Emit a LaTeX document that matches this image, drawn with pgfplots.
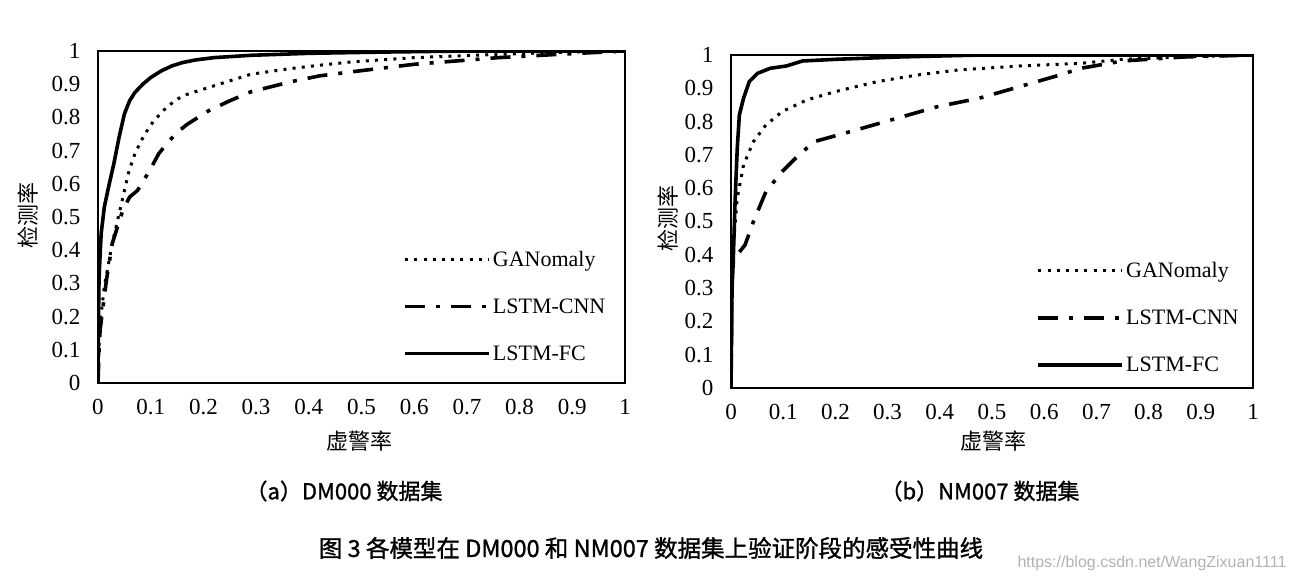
\documentclass[border=0pt]{standalone}
\usepackage{fontspec}
\setmainfont{Liberation Serif}
\newfontfamily\cjk{Noto Sans CJK SC}
\newfontfamily\cjkb[FakeBold=1.2]{Noto Sans CJK SC}
\newfontfamily\wm{Liberation Sans}
\usepackage{pgfplots}
\pgfplotsset{compat=1.18}
\pgfplotsset{
  rocstyle/.style={
    scale only axis, xmin=0, xmax=1, ymin=0, ymax=1,
    xtick={0,0.1,0.2,0.3,0.4,0.5,0.6,0.7,0.8,0.9,1},
    ytick={0,0.1,0.2,0.3,0.4,0.5,0.6,0.7,0.8,0.9,1},
    major tick length=0pt,
    axis line style={line width=1.6pt},
    /pgf/number format/assume math mode=true,
    tick label style={font=\fontsize{23}{26}\selectfont},
    xticklabel style={yshift=-13pt},
    yticklabel style={xshift=-14pt},
    label style={font=\cjk\fontsize{22}{24}\selectfont},
    legend style={draw=none, fill=none, anchor=north west,
      font=\fontsize{22}{24}\selectfont, row sep=27pt, inner sep=0pt,
      legend cell align=left,
      /tikz/every even column/.append style={column sep=8pt}},
  },
  gan/.style={black, line width=3pt, dash pattern=on 3pt off 6.2pt,
    legend image code/.code={\path (0pt,0pt) -- (84pt,0pt); \draw[##1] (0pt,0pt) -- (75pt,0pt);}},
  cnn/.style={black, line width=3.6pt, dash pattern=on 20pt off 11pt on 4pt off 11pt,
    legend image code/.code={\path (0pt,0pt) -- (84pt,0pt); \draw[##1] (0pt,0pt) -- (66pt,0pt);}},
  fc/.style={black, line width=3.6pt,
    legend image code/.code={\path (0pt,0pt) -- (84pt,0pt); \draw[##1] (0pt,0pt) -- (84pt,0pt);}},
}
\begin{document}
\begin{tikzpicture}[x=1pt,y=1pt]
\useasboundingbox (0,0) rectangle (1293,580);
% ---------- (a) DM000 ----------
\begin{axis}[rocstyle, at={(98pt,197pt)}, anchor=south west, width=527pt, height=332pt,
  xlabel={虚警率}, ylabel={检测率},
  xlabel style={at={(axis description cs:0.497,-0.175)}, anchor=center},
  ylabel style={at={(axis description cs:-0.133,0.506)}, anchor=center, rotate=0},
  legend style={at={(axis description cs:0.579,0.405)}}]
\addplot[gan] coordinates {
(0,0) (0.002,0.12) (0.004,0.18) (0.012,0.29) (0.027,0.42) (0.043,0.53) (0.059,0.64)
(0.07,0.69) (0.082,0.73) (0.095,0.765) (0.106,0.79) (0.13,0.83) (0.15,0.855) (0.17,0.87)
(0.21,0.89) (0.25,0.91) (0.29,0.93) (0.365,0.947) (0.42,0.957) (0.48,0.967) (0.6,0.98)
(0.76,0.99) (0.9,0.997) (1,1)};
\addlegendentry{GANomaly}
\addplot[cnn] coordinates {
(0,0) (0.002,0.1) (0.004,0.16) (0.016,0.31) (0.027,0.42) (0.047,0.52) (0.06,0.56)
(0.075,0.58) (0.098,0.64) (0.115,0.69) (0.13,0.72) (0.15,0.755) (0.17,0.78) (0.21,0.82)
(0.25,0.85) (0.29,0.877) (0.365,0.907) (0.42,0.925) (0.48,0.937) (0.6,0.96) (0.68,0.97)
(0.76,0.98) (0.875,0.99) (1,1)};
\addlegendentry{LSTM-CNN}
\addplot[fc] coordinates {
(0,0) (0.001,0.2) (0.002,0.32) (0.006,0.45) (0.012,0.53) (0.02,0.59) (0.03,0.66)
(0.04,0.74) (0.05,0.81) (0.06,0.85) (0.07,0.875) (0.085,0.9) (0.1,0.92) (0.12,0.94)
(0.14,0.955) (0.16,0.965) (0.185,0.973) (0.22,0.98) (0.29,0.987) (0.4,0.993)
(0.55,0.997) (0.7,1) (1,1)};
\addlegendentry{LSTM-FC}
\end{axis}
% ---------- (b) NM007 ----------
\begin{axis}[rocstyle, at={(731pt,192pt)}, anchor=south west, width=522pt, height=333pt,
  xlabel={虚警率}, ylabel={检测率},
  xlabel style={at={(axis description cs:0.502,-0.159)}, anchor=center},
  ylabel style={at={(axis description cs:-0.121,0.51)}, anchor=center, rotate=0},
  legend style={at={(axis description cs:0.585,0.385)}}]
\addplot[gan] coordinates {
(0,0) (0.002,0.35) (0.004,0.42) (0.012,0.57) (0.024,0.67) (0.043,0.74) (0.067,0.79)
(0.098,0.83) (0.145,0.865) (0.2,0.89) (0.28,0.92) (0.357,0.94) (0.435,0.955)
(0.553,0.967) (0.67,0.975) (0.75,0.987) (0.867,0.994) (1,1)};
\addlegendentry{GANomaly}
\addplot[cnn] coordinates {
(0,0) (0.002,0.37) (0.012,0.40) (0.027,0.43) (0.043,0.5) (0.067,0.59) (0.098,0.65)
(0.13,0.70) (0.16,0.74) (0.24,0.775) (0.318,0.81) (0.396,0.845) (0.475,0.87)
(0.553,0.905) (0.63,0.94) (0.67,0.96) (0.75,0.982) (0.867,0.994) (1,1)};
\addlegendentry{LSTM-CNN}
\addplot[fc] coordinates {
(0,0) (0.002,0.3) (0.004,0.37) (0.008,0.57) (0.012,0.72) (0.016,0.82) (0.024,0.87)
(0.035,0.92) (0.051,0.945) (0.075,0.96) (0.106,0.967) (0.137,0.982) (0.2,0.987)
(0.32,0.994) (0.48,1) (1,1)};
\addlegendentry{LSTM-FC}
\end{axis}
% ---------- captions ----------
\node[font=\cjkb\fontsize{22}{24}\selectfont] at (344,89) {（a）DM000 数据集};
\node[font=\cjkb\fontsize{22}{24}\selectfont] at (980,89) {（b）NM007 数据集};
\node[font=\cjkb\fontsize{23.5}{26}\selectfont] at (651,32) {图 3 各模型在 DM000 和 NM007 数据集上验证阶段的感受性曲线};
\node[font=\wm\fontsize{16}{18}\selectfont, text=black!30] at (1152,17) {https://blog.csdn.net/WangZixuan1111};
\end{tikzpicture}
\end{document}
